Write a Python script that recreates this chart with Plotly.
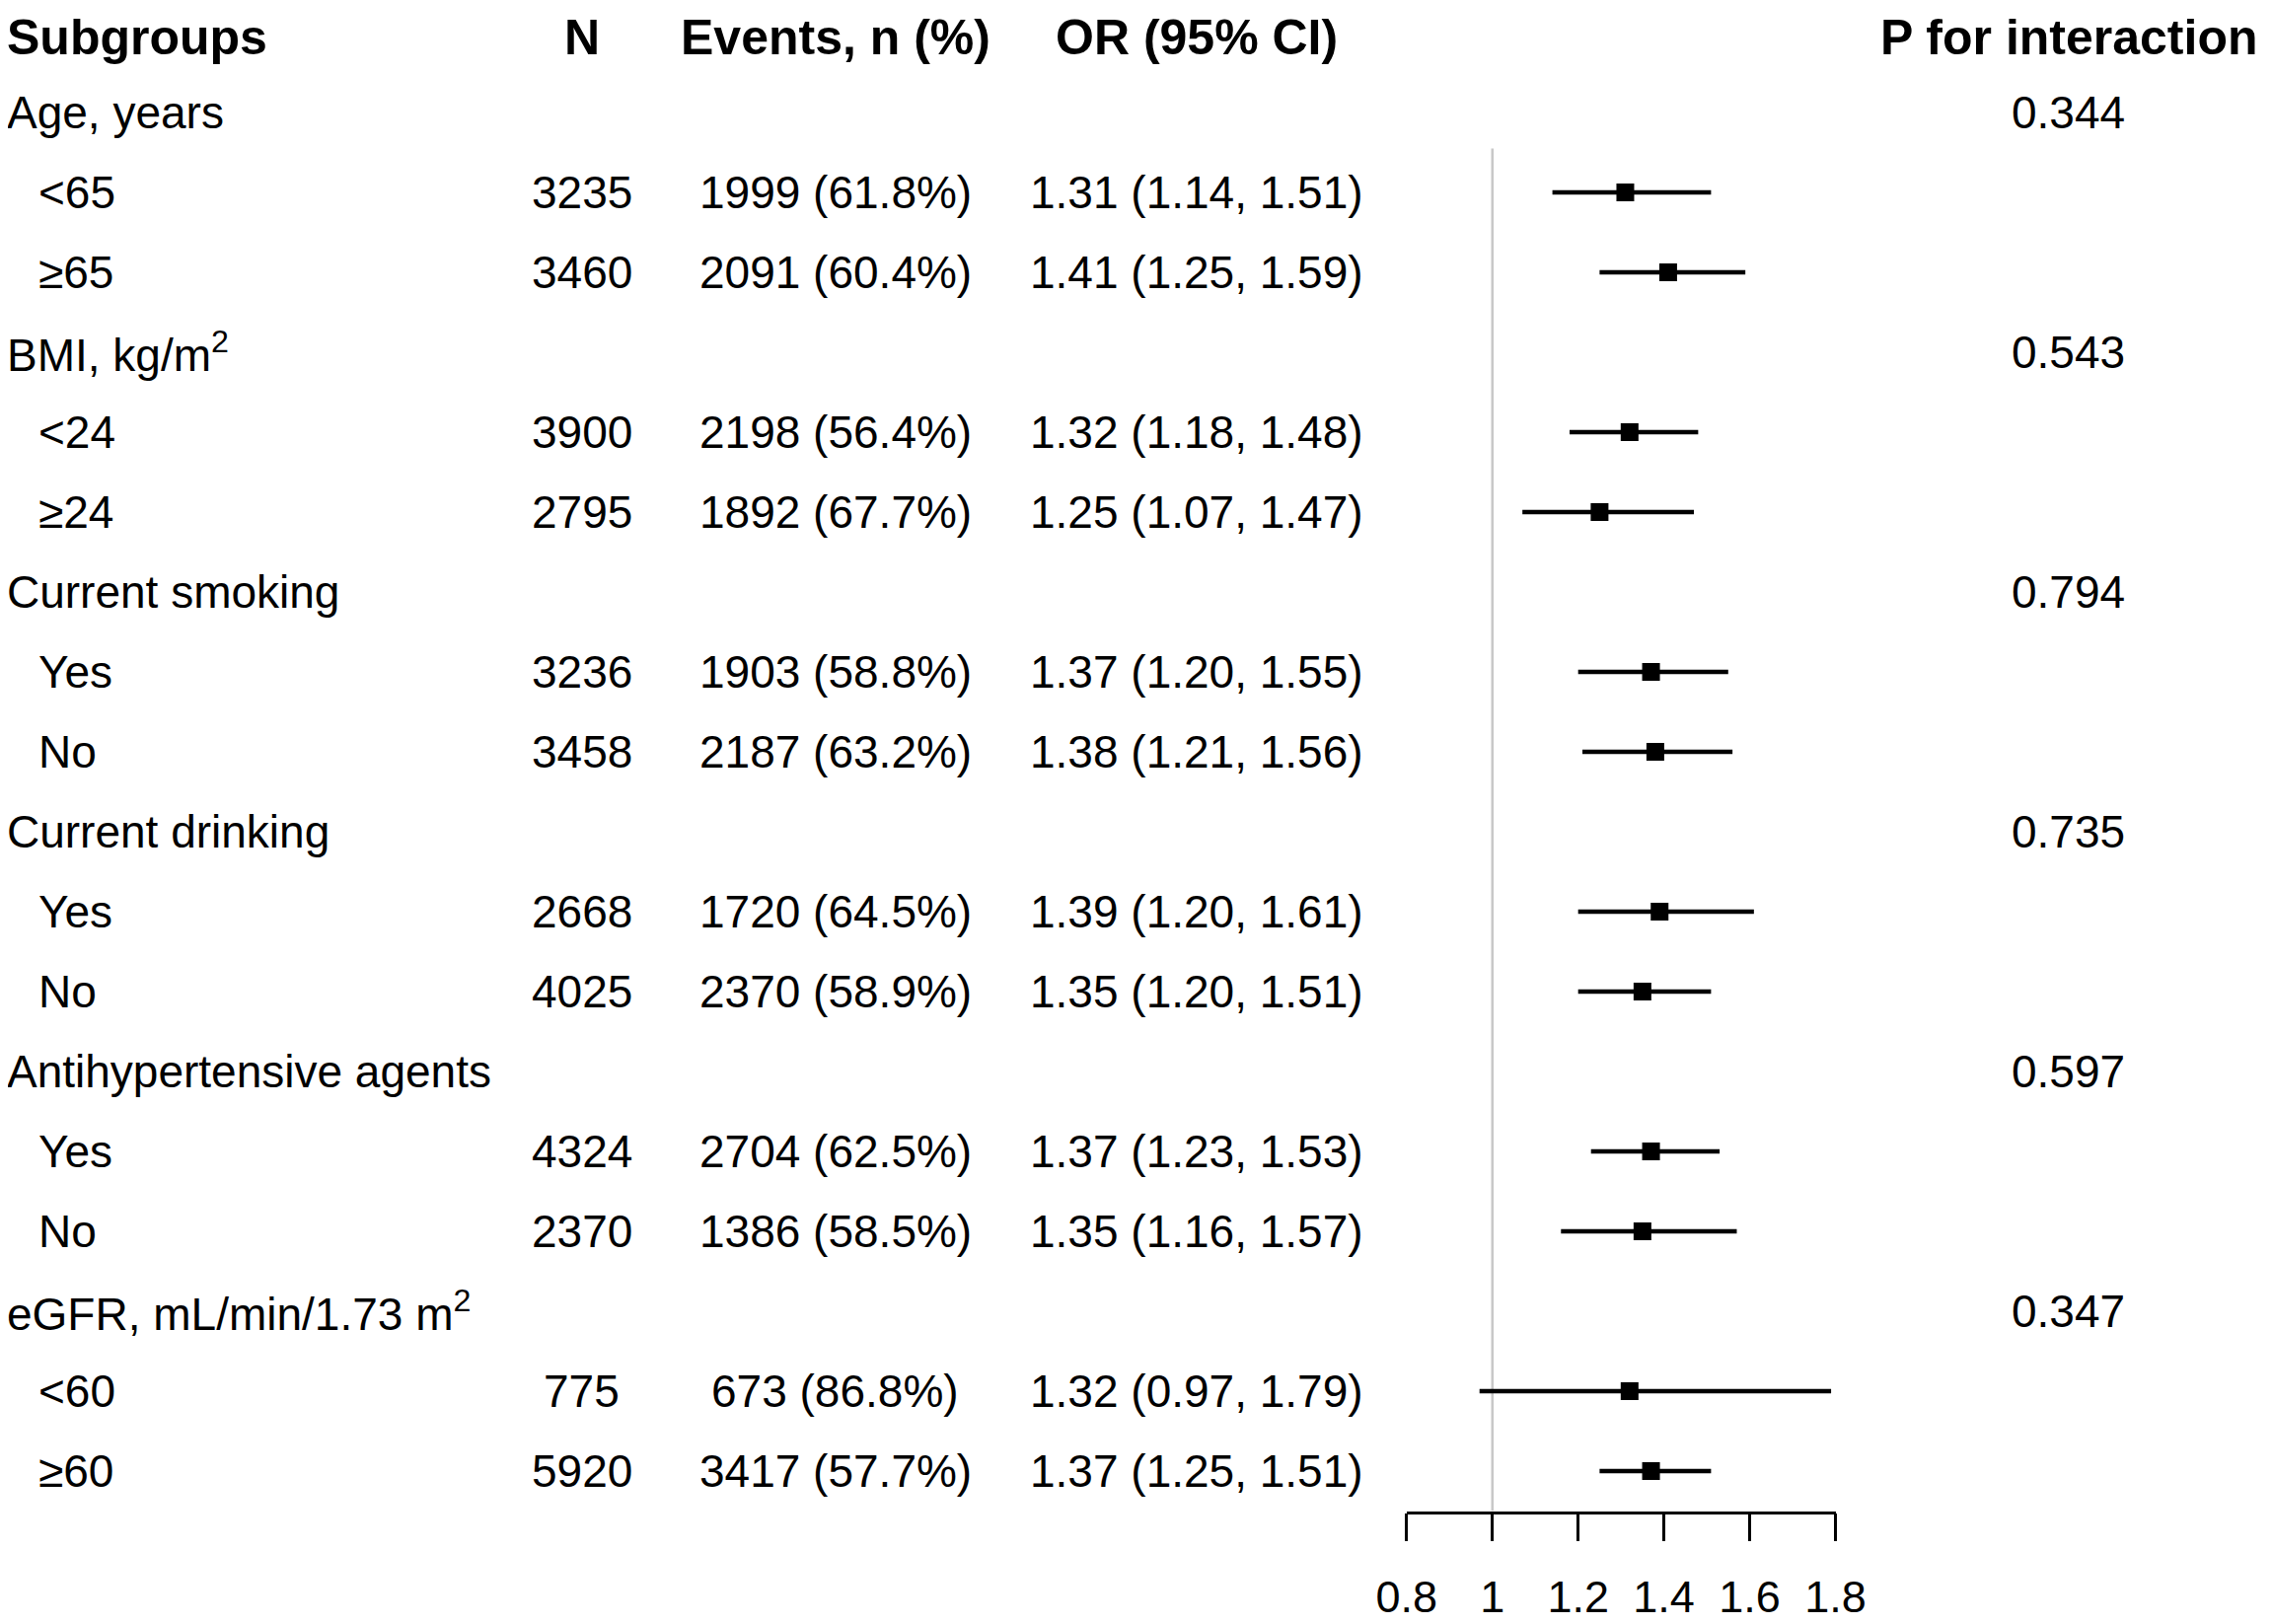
import plotly.graph_objects as go

# rows of the table (group header rows have no numbers)
subgroups = ["Age, years", "<65", "≥65",
             "BMI, kg/m<sup>2</sup>", "<24", "≥24",
             "Current smoking", "Yes", "No",
             "Current drinking", "Yes", "No",
             "Antihypertensive agents", "Yes", "No",
             "eGFR, mL/min/1.73 m<sup>2</sup>", "<60", "≥60"]
is_group = [True, False, False, True, False, False, True, False, False,
            True, False, False, True, False, False, True, False, False]
n_total = [None, 3235, 3460, None, 3900, 2795, None, 3236, 3458,
           None, 2668, 4025, None, 4324, 2370, None, 775, 5920]
events_n = [None, 1999, 2091, None, 2198, 1892, None, 1903, 2187,
            None, 1720, 2370, None, 2704, 1386, None, 673, 3417]
events_pct = [None, 61.8, 60.4, None, 56.4, 67.7, None, 58.8, 63.2,
              None, 64.5, 58.9, None, 62.5, 58.5, None, 86.8, 57.7]
odds_ratio = [None, 1.31, 1.41, None, 1.32, 1.25, None, 1.37, 1.38,
              None, 1.39, 1.35, None, 1.37, 1.35, None, 1.32, 1.37]
ci_low = [None, 1.14, 1.25, None, 1.18, 1.07, None, 1.20, 1.21,
          None, 1.20, 1.20, None, 1.23, 1.16, None, 0.97, 1.25]
ci_high = [None, 1.51, 1.59, None, 1.48, 1.47, None, 1.55, 1.56,
           None, 1.61, 1.51, None, 1.53, 1.57, None, 1.79, 1.51]
p_interaction = [0.344, None, None, 0.543, None, None, 0.794, None, None,
                 0.735, None, None, 0.597, None, None, 0.347, None, None]

headers = ["Subgroups", "N", "Events, n (%)", "OR (95% CI)", "P for interaction"]
tick_vals = [0.8, 1, 1.2, 1.4, 1.6, 1.8]
tick_text = ["0.8", "1", "1.2", "1.4", "1.6", "1.8"]

W, H = 2303, 1646
FONT = "Liberation Sans, Arial, sans-serif"
FS = 46
FS_HEAD = 50


def px(x):
    # target pixel -> paper fraction (corrects the offset seen in the render)
    return (x - 41.2) / 0.973 / W


# text column positions in pixels
x_group, x_sub = 7, 39
x_n, x_ev, x_or, x_p = 592, 849, 1215, 2099
head_row = 0.06

rows = list(range(1, len(subgroups) + 1))

ry, r_or, r_plus, r_minus = [], [], [], []
for r, o, lo, hi in zip(rows, odds_ratio, ci_low, ci_high):
    if o is None:
        continue
    ry.append(r)
    r_or.append(o)
    r_plus.append(hi - o)
    r_minus.append(o - lo)

fig = go.Figure()
fig.add_trace(go.Scatter(
    x=r_or, y=ry, mode="markers",
    marker=dict(symbol="square", size=18, color="black"),
    error_x=dict(type="data", symmetric=False, array=r_plus, arrayminus=r_minus,
                 thickness=4.5, width=0, color="black"),
    showlegend=False, hoverinfo="skip",
))

ann = []


def txt(x, y, s, anchor="center", bold=False):
    ann.append(dict(
        x=px(x), y=y, xref="paper", yref="y", text=f"<b>{s}</b>" if bold else s,
        xanchor=anchor, yanchor="middle", showarrow=False,
        font=dict(family=FONT, size=FS_HEAD if bold else FS, color="black"),
    ))


txt(x_group, head_row, headers[0], "left", True)
txt(x_n, head_row, headers[1], bold=True)
txt(x_ev, head_row, headers[2], bold=True)
txt(x_or, head_row, headers[3], bold=True)
txt(x_p, head_row, headers[4], bold=True)

for i, r in enumerate(rows):
    txt(x_group if is_group[i] else x_sub, r, subgroups[i], "left")
    if n_total[i] is not None:
        txt(x_n, r, str(n_total[i]))
        txt(x_ev, r, f"{events_n[i]} ({events_pct[i]:.1f}%)")
        txt(x_or, r, f"{odds_ratio[i]:.2f} ({ci_low[i]:.2f}, {ci_high[i]:.2f})")
    if p_interaction[i] is not None:
        txt(x_p, r, f"{p_interaction[i]:.3f}")

row_px = 81.0
row0_px = 25.0
axis_row = len(subgroups) + 0.5
y_top = -row0_px / row_px
axis_px = row0_px + axis_row * row_px

fig.add_shape(type="line", xref="x", yref="y", x0=1, x1=1, y0=1.45, y1=axis_row,
              line=dict(color="#c8c8c8", width=2.5), layer="below")

fig.update_layout(
    width=W, height=H,
    margin=dict(l=0, r=0, t=0, b=0),
    paper_bgcolor="white", plot_bgcolor="white",
    annotations=ann,
    xaxis=dict(
        domain=[px(1427.7), px(1862.7)], range=[0.7995, 1.8005],
        tickvals=tick_vals, ticktext=tick_text,
        ticks="outside", ticklen=28, tickwidth=2.5, tickcolor="black",
        showline=True, linewidth=2.5, linecolor="black",
        showgrid=False, zeroline=False, ticklabelstandoff=18,
        tickfont=dict(family=FONT, size=45, color="black"),
    ),
    yaxis=dict(
        domain=[1 - axis_px / H, 1], range=[axis_row, y_top],
        visible=False, showgrid=False, zeroline=False,
    ),
)

fig.write_html("out.html")
